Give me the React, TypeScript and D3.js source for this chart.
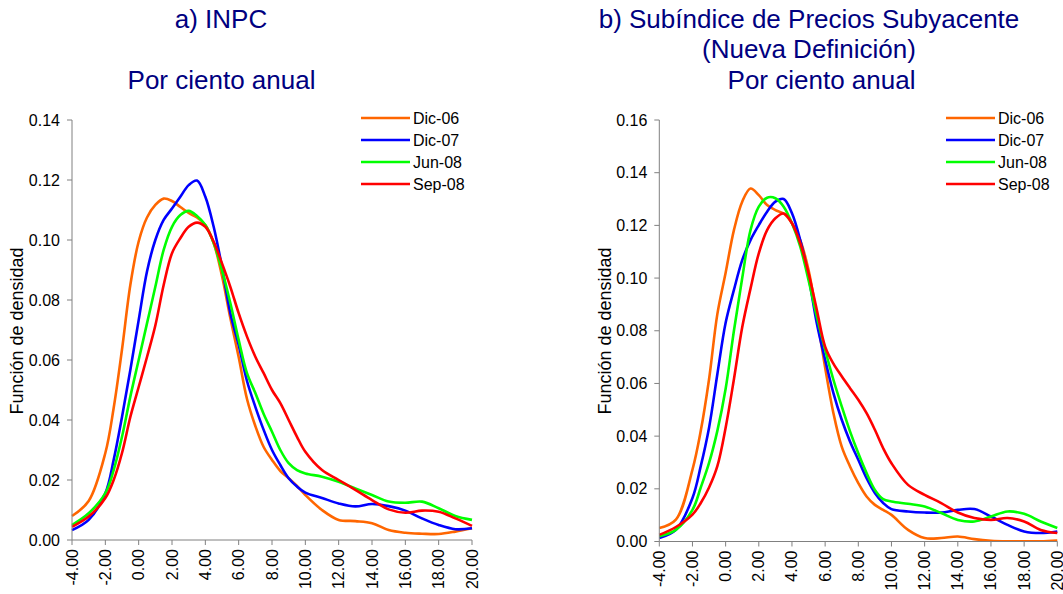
import React from "react";
import * as d3 from "d3";

const xGrid = [-4, -3, -2, -1.5, -1, -0.5, 0, 0.5, 1, 1.5, 2, 2.5, 3, 3.5, 4, 4.5, 5, 5.5, 6, 6.5, 7, 7.5, 8, 8.5, 9, 9.5, 10, 11, 12, 13, 14, 15, 16, 17, 18, 19, 20];

const seriesNames = ["Dic-06", "Dic-07", "Jun-08", "Sep-08"];
const seriesColors = ["#FF6600", "#0000FF", "#00FF00", "#FF0000"];

// a) INPC
const inpcDic06 = [0.008, 0.013, 0.029, 0.044, 0.0635, 0.085, 0.0995, 0.1075, 0.1117, 0.1138, 0.113, 0.111, 0.109, 0.1075, 0.105, 0.099, 0.088, 0.074, 0.061, 0.047, 0.038, 0.031, 0.0267, 0.023, 0.0206, 0.018, 0.015, 0.01, 0.0067, 0.0063, 0.0056, 0.0033, 0.0024, 0.0021, 0.002, 0.0028, 0.0039];
const inpcDic07 = [0.0033, 0.0067, 0.0156, 0.0267, 0.041, 0.0567, 0.0733, 0.0895, 0.1, 0.1067, 0.1105, 0.1144, 0.1183, 0.1198, 0.1144, 0.1044, 0.091, 0.0756, 0.065, 0.053, 0.0444, 0.0367, 0.03, 0.025, 0.0206, 0.0178, 0.0158, 0.014, 0.0122, 0.0112, 0.012, 0.0113, 0.0098, 0.0072, 0.005, 0.0036, 0.0039];
const inpcJun08 = [0.005, 0.0089, 0.0156, 0.0233, 0.0344, 0.0478, 0.06, 0.0722, 0.0844, 0.0967, 0.1044, 0.1083, 0.1097, 0.108, 0.105, 0.099, 0.09, 0.079, 0.0667, 0.0556, 0.049, 0.042, 0.0361, 0.03, 0.0256, 0.0233, 0.0222, 0.0211, 0.0194, 0.0172, 0.015, 0.0128, 0.0124, 0.0128, 0.0106, 0.008, 0.0067];
const inpcSep08 = [0.0044, 0.0078, 0.014, 0.02, 0.029, 0.041, 0.051, 0.061, 0.0715, 0.085, 0.0956, 0.1006, 0.1044, 0.1058, 0.1044, 0.0994, 0.0922, 0.0844, 0.0756, 0.0678, 0.0611, 0.0556, 0.05, 0.0456, 0.04, 0.0344, 0.0294, 0.0233, 0.02, 0.0167, 0.0133, 0.0102, 0.0091, 0.0098, 0.0094, 0.0072, 0.0047];

// b) Subindice subyacente
const subDic06 = [0.0051, 0.0083, 0.0273, 0.042, 0.0616, 0.0863, 0.102, 0.1182, 0.129, 0.134, 0.1315, 0.1277, 0.1258, 0.1245, 0.1208, 0.1144, 0.103, 0.0853, 0.066, 0.0487, 0.036, 0.0285, 0.0222, 0.0171, 0.0139, 0.012, 0.0101, 0.0044, 0.0013, 0.0013, 0.0019, 0.0009, 0.0003, 0.0001, 0.0001, 0.0001, 0.0004];
const subDic07 = [0.0013, 0.0044, 0.0165, 0.0286, 0.0432, 0.0635, 0.083, 0.0955, 0.1068, 0.1144, 0.1201, 0.1252, 0.129, 0.13, 0.1246, 0.1144, 0.1005, 0.0828, 0.069, 0.0563, 0.0462, 0.038, 0.031, 0.024, 0.0184, 0.0146, 0.0123, 0.0114, 0.011, 0.011, 0.012, 0.0123, 0.0095, 0.0063, 0.0038, 0.0032, 0.0038];
const subJun08 = [0.002, 0.0044, 0.012, 0.0205, 0.0298, 0.042, 0.058, 0.08, 0.1, 0.1182, 0.1271, 0.1305, 0.1303, 0.1271, 0.1208, 0.1119, 0.0992, 0.0853, 0.0728, 0.0614, 0.0513, 0.0418, 0.0335, 0.026, 0.0196, 0.0161, 0.0152, 0.0143, 0.0133, 0.0108, 0.0082, 0.0076, 0.0095, 0.0114, 0.0105, 0.0076, 0.0051];
const subSep08 = [0.0025, 0.0055, 0.0102, 0.0146, 0.0205, 0.0286, 0.0432, 0.0616, 0.0813, 0.096, 0.1094, 0.1182, 0.1227, 0.1245, 0.1208, 0.1132, 0.1018, 0.0879, 0.074, 0.0675, 0.0627, 0.0582, 0.0538, 0.0487, 0.0424, 0.0354, 0.0297, 0.0215, 0.0177, 0.0146, 0.011, 0.0089, 0.0082, 0.0089, 0.0076, 0.0044, 0.0032];

const xTicks = [-4, -2, 0, 2, 4, 6, 8, 10, 12, 14, 16, 18, 20];
const yTicksA = [0, 0.02, 0.04, 0.06, 0.08, 0.1, 0.12, 0.14];
const yTicksB = [0, 0.02, 0.04, 0.06, 0.08, 0.1, 0.12, 0.14, 0.16];

const titleA = ["a) INPC"];
const titleB = ["b) Subíndice de Precios Subyacente", "(Nueva Definición)"];
const subtitle = "Por ciento anual";
const yLabel = "Función de densidad";

const FONT = "'Liberation Sans', Arial, Helvetica, sans-serif";
const NAVY = "#000080";
const AXIS = "#808080";

type PanelProps = {
  id: string; x0: number; x1: number; yTop: number; yBottom: number; yMax: number;
  yTicks: number[]; series: number[][]; legendX: number; labelX: number;
};

function Panel(p: PanelProps) {
  const x = d3.scaleLinear().domain([-4, 20]).range([p.x0, p.x1]);
  const y = d3.scaleLinear().domain([0, p.yMax]).range([p.yBottom, p.yTop]);
  const line = d3.line<[number, number]>()
    .x((d) => x(d[0]))
    .y((d) => y(d[1]))
    .curve(d3.curveCatmullRom.alpha(0.5));
  const labelY = 331;
  return (
    <g>
      <defs>
        <clipPath id={p.id}>
          <rect x={p.x0 - 3} y={p.yTop - 20} width={p.x1 - p.x0 + 6} height={p.yBottom - p.yTop + 20.5} />
        </clipPath>
      </defs>
      <g clipPath={`url(#${p.id})`}>
        {p.series.map((vals, i) => (
          <path key={i} d={line(xGrid.map((g, k) => [g, vals[k]] as [number, number])) || ""}
            fill="none" stroke={seriesColors[i]} strokeWidth={2.6} strokeLinejoin="round" />
        ))}
      </g>
      <line x1={p.x0} x2={p.x0} y1={p.yTop} y2={p.yBottom} stroke={AXIS} strokeWidth={1} />
      <line x1={p.x0} x2={p.x1} y1={p.yBottom} y2={p.yBottom} stroke={AXIS} strokeWidth={1} />
      {p.yTicks.map((t) => (
        <g key={"y" + t}>
          <line x1={p.x0 - 5} x2={p.x0} y1={y(t)} y2={y(t)} stroke={AXIS} />
          <text x={p.x0 - 12} y={y(t) + 5.5} textAnchor="end" fontSize={16} fontFamily={FONT} fill="#000">{t.toFixed(2)}</text>
        </g>
      ))}
      {xTicks.map((t) => (
        <g key={"x" + t}>
          <line x1={x(t)} x2={x(t)} y1={p.yBottom} y2={p.yBottom + 5} stroke={AXIS} />
          <text transform={`translate(${x(t) + 5.5},${p.yBottom + 9}) rotate(-90)`} textAnchor="end" fontSize={16} fontFamily={FONT} fill="#000">{t.toFixed(2)}</text>
        </g>
      ))}
      <text transform={`translate(${p.labelX},${labelY}) rotate(-90)`} textAnchor="middle" fontSize={18} fontFamily={FONT} fill="#000">{yLabel}</text>
      {seriesNames.map((n, i) => (
        <g key={n}>
          <line x1={p.legendX} x2={p.legendX + 49} y1={118 + i * 22} y2={118 + i * 22} stroke={seriesColors[i]} strokeWidth={2.6} />
          <text x={p.legendX + 52} y={118 + i * 22 + 5.5} fontSize={16} fontFamily={FONT} fill="#000">{n}</text>
        </g>
      ))}
    </g>
  );
}

export default function App() {
  return (
    <svg width={1063} height={594} style={{ position: "absolute", left: 0, top: 0, background: "#fff" }}>
      <rect width={1063} height={594} fill="#fff" />
      {titleA.map((t, i) => (
        <text key={t} x={221} y={28 + i * 31} textAnchor="middle" fontSize={26} fontFamily={FONT} fill={NAVY}>{t}</text>
      ))}
      <text x={221.5} y={89} textAnchor="middle" fontSize={26} fontFamily={FONT} fill={NAVY}>{subtitle}</text>
      {titleB.map((t, i) => (
        <text key={t} x={809} y={27.5 + i * 30.5} textAnchor="middle" fontSize={26} fontFamily={FONT} fill={NAVY}>{t}</text>
      ))}
      <text x={821.5} y={89} textAnchor="middle" fontSize={26} fontFamily={FONT} fill={NAVY}>{subtitle}</text>
      <Panel id="clipA" x0={72} x1={472} yTop={120} yBottom={540} yMax={0.14} yTicks={yTicksA}
        series={[inpcDic06, inpcDic07, inpcJun08, inpcSep08]} legendX={361} labelX={23} />
      <Panel id="clipB" x0={659.3} x1={1057.3} yTop={120} yBottom={541.5} yMax={0.16} yTicks={yTicksB}
        series={[subDic06, subDic07, subJun08, subSep08]} legendX={946} labelX={611} />
    </svg>
  );
}
